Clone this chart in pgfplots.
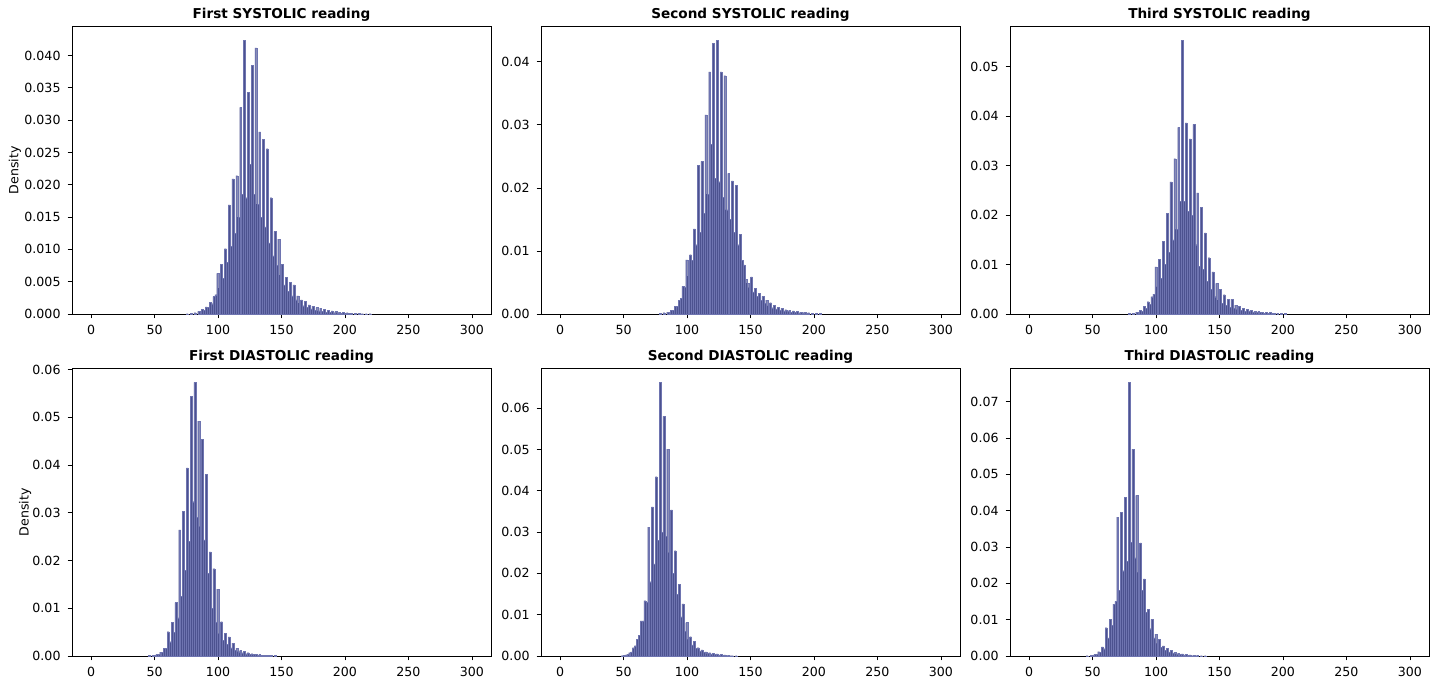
\documentclass[border=0pt]{standalone}
\usepackage{fontspec}
\setmainfont{DejaVu Sans}
\usepackage{pgfplots}
\usepackage{pgfplotstable}
\pgfplotsset{compat=1.18}
\definecolor{barfill}{RGB}{76,82,143}
\definecolor{baredge}{RGB}{110,116,176}

% bin centre, density (bins of width 1.5)
\pgfplotstableread{
x y
75.75 0.00005
78.75 0.0001
81.75 0.0002
84.75 0.0004
86.25 0.0003
87.75 0.0007
89.25 0.0006
90.75 0.0011
92.25 0.0010
93.75 0.0018
95.25 0.0016
96.75 0.0027
98.25 0.0030
99.75 0.0063
101.25 0.0040
102.75 0.0077
104.25 0.0055
105.75 0.0101
107.25 0.0080
108.75 0.0169
110.25 0.0105
111.75 0.0209
113.25 0.0125
114.75 0.0214
116.25 0.0150
117.75 0.0320
119.25 0.0185
120.75 0.0424
122.25 0.0180
123.75 0.0343
125.25 0.0232
126.75 0.0385
128.25 0.0185
129.75 0.0412
131.25 0.0170
132.75 0.0282
134.25 0.0150
135.75 0.0270
137.25 0.0135
138.75 0.0256
140.25 0.0110
141.75 0.0180
143.25 0.0090
144.75 0.0128
146.25 0.0075
147.75 0.0116
149.25 0.0060
150.75 0.0077
152.25 0.0045
153.75 0.0057
155.25 0.0035
156.75 0.0049
158.25 0.0028
159.75 0.0045
161.25 0.0022
162.75 0.0028
164.25 0.0017
165.75 0.0022
167.25 0.0013
168.75 0.0020
170.25 0.0010
171.75 0.0014
173.25 0.0008
174.75 0.0012
176.25 0.0006
177.75 0.0010
179.25 0.0005
180.75 0.0009
182.25 0.0004
183.75 0.0007
185.25 0.0003
186.75 0.0006
188.25 0.0003
189.75 0.0005
191.25 0.0002
192.75 0.0004
194.25 0.0002
195.75 0.0003
197.25 0.0001
198.75 0.0003
200.25 0.0001
201.75 0.0002
203.25 0.0001
204.75 0.0001
207.75 0.0001
210.75 0.0001
213.75 0.00005
216.75 0.00005
219.75 0.00005
}\sysA

\pgfplotstableread{
x y
78.75 0.0001
81.75 0.0002
84.75 0.0003
86.25 0.0003
87.75 0.0006
89.25 0.0006
90.75 0.0012
92.25 0.0012
93.75 0.0022
95.25 0.0025
96.75 0.0044
98.25 0.0042
99.75 0.0086
101.25 0.0060
102.75 0.0094
104.25 0.0085
105.75 0.0135
107.25 0.0110
108.75 0.0236
110.25 0.0130
111.75 0.0242
113.25 0.0160
114.75 0.0316
116.25 0.0190
117.75 0.0384
119.25 0.0269
120.75 0.0429
122.25 0.0215
123.75 0.0434
125.25 0.0210
126.75 0.0384
128.25 0.0185
129.75 0.0378
131.25 0.0165
132.75 0.0223
134.25 0.0150
135.75 0.0211
137.25 0.0130
138.75 0.0204
140.25 0.0110
141.75 0.0126
143.25 0.0085
144.75 0.0078
146.25 0.0055
147.75 0.0049
149.25 0.0042
150.75 0.0059
152.25 0.0035
153.75 0.0041
155.25 0.0028
156.75 0.0033
158.25 0.0022
159.75 0.0028
161.25 0.0017
162.75 0.0022
164.25 0.0013
165.75 0.0018
167.25 0.0010
168.75 0.0014
170.25 0.0008
171.75 0.0011
173.25 0.0006
174.75 0.0009
176.25 0.0005
177.75 0.0007
179.25 0.0004
180.75 0.0006
182.25 0.0003
183.75 0.0005
185.25 0.0003
186.75 0.0004
188.25 0.0002
189.75 0.0003
191.25 0.0002
192.75 0.0003
194.25 0.0001
195.75 0.0002
198.75 0.0001
201.75 0.0001
204.75 0.0001
}\sysB

\pgfplotstableread{
x y
78.75 0.0001
81.75 0.0002
84.75 0.0004
86.25 0.0003
87.75 0.0008
89.25 0.0006
90.75 0.0015
92.25 0.0011
93.75 0.0025
95.25 0.0020
96.75 0.0035
98.25 0.0040
99.75 0.0095
101.25 0.0055
102.75 0.0111
104.25 0.0072
105.75 0.0147
107.25 0.0100
108.75 0.0203
110.25 0.0125
111.75 0.0267
113.25 0.0150
114.75 0.0314
116.25 0.0171
117.75 0.0377
119.25 0.0228
120.75 0.0553
122.25 0.0228
123.75 0.0386
125.25 0.0208
126.75 0.0354
128.25 0.0200
129.75 0.0383
131.25 0.0140
132.75 0.0245
134.25 0.0096
135.75 0.0216
137.25 0.0090
138.75 0.0164
140.25 0.0066
141.75 0.0114
143.25 0.0050
144.75 0.0085
146.25 0.0035
147.75 0.0062
149.25 0.0028
150.75 0.0050
152.25 0.0022
153.75 0.0039
155.25 0.0018
156.75 0.0030
158.25 0.0014
159.75 0.0030
161.25 0.0011
162.75 0.0018
164.25 0.0009
165.75 0.0015
167.25 0.0007
168.75 0.0012
170.25 0.0006
171.75 0.0010
173.25 0.0005
174.75 0.0008
176.25 0.0004
177.75 0.0006
179.25 0.0003
180.75 0.0005
182.25 0.0003
183.75 0.0004
185.25 0.0002
186.75 0.0003
188.25 0.0002
189.75 0.0003
191.25 0.0001
192.75 0.0002
195.75 0.0002
198.75 0.0001
201.75 0.0001
}\sysC

\pgfplotstableread{
x y
45.75 0.0001
48.75 0.0002
50.25 0.0002
51.75 0.0004
53.25 0.0004
54.75 0.0008
56.25 0.0008
57.75 0.0016
59.25 0.0016
60.75 0.0051
62.25 0.0030
63.75 0.0070
65.25 0.0050
66.75 0.0112
68.25 0.0080
69.75 0.0264
71.25 0.0125
72.75 0.0303
74.25 0.0180
75.75 0.0394
77.25 0.0240
78.75 0.0544
80.25 0.0323
81.75 0.0573
83.25 0.0290
84.75 0.0492
86.25 0.0271
87.75 0.0454
89.25 0.0243
90.75 0.0381
92.25 0.0173
93.75 0.0218
95.25 0.0100
96.75 0.0183
98.25 0.0070
99.75 0.0140
101.25 0.0047
102.75 0.0072
104.25 0.0033
105.75 0.0047
107.25 0.0024
108.75 0.0040
110.25 0.0017
111.75 0.0027
113.25 0.0012
114.75 0.0016
116.25 0.0009
117.75 0.0012
119.25 0.0007
120.75 0.0010
122.25 0.0005
123.75 0.0007
125.25 0.0004
126.75 0.0005
128.25 0.0003
129.75 0.0004
131.25 0.0002
132.75 0.0003
134.25 0.0002
135.75 0.0002
137.25 0.0001
138.75 0.0002
140.25 0.0001
141.75 0.0001
144.75 0.0001
}\diaA

\pgfplotstableread{
x y
48.75 0.0001
50.25 0.0002
51.75 0.0003
53.25 0.0004
54.75 0.0008
56.25 0.0010
57.75 0.0020
59.25 0.0025
60.75 0.0041
62.25 0.0050
63.75 0.0085
65.25 0.0085
66.75 0.0134
68.25 0.0130
69.75 0.0312
71.25 0.0180
72.75 0.0361
74.25 0.0223
75.75 0.0434
77.25 0.0280
78.75 0.0663
80.25 0.0300
81.75 0.0580
83.25 0.0290
84.75 0.0501
86.25 0.0250
87.75 0.0354
89.25 0.0200
90.75 0.0255
92.25 0.0150
93.75 0.0174
95.25 0.0095
96.75 0.0126
98.25 0.0060
99.75 0.0081
101.25 0.0040
102.75 0.0047
104.25 0.0027
105.75 0.0035
107.25 0.0018
108.75 0.0020
110.25 0.0012
111.75 0.0015
113.25 0.0009
114.75 0.0010
116.25 0.0006
117.75 0.0008
119.25 0.0005
120.75 0.0006
122.25 0.0004
123.75 0.0005
125.25 0.0003
126.75 0.0004
128.25 0.0002
129.75 0.0003
131.25 0.0001
132.75 0.0002
134.25 0.0001
135.75 0.0001
138.75 0.0001
}\diaB

\pgfplotstableread{
x y
45.75 0.0001
48.75 0.0002
50.25 0.0002
51.75 0.0005
53.25 0.0005
54.75 0.0012
56.25 0.0010
57.75 0.0025
59.25 0.0020
60.75 0.0078
62.25 0.0050
63.75 0.0101
65.25 0.0085
66.75 0.0143
68.25 0.0150
69.75 0.0382
71.25 0.0180
72.75 0.0396
74.25 0.0235
75.75 0.0437
77.25 0.0260
78.75 0.0753
80.25 0.0313
81.75 0.0569
83.25 0.0270
84.75 0.0442
86.25 0.0230
87.75 0.0311
89.25 0.0180
90.75 0.0212
92.25 0.0120
93.75 0.0129
95.25 0.0075
96.75 0.0101
98.25 0.0050
99.75 0.0060
101.25 0.0035
102.75 0.0046
104.25 0.0024
105.75 0.0028
107.25 0.0016
108.75 0.0022
110.25 0.0011
111.75 0.0015
113.25 0.0008
114.75 0.0011
116.25 0.0006
117.75 0.0008
119.25 0.0004
120.75 0.0006
122.25 0.0003
123.75 0.0004
125.25 0.0002
126.75 0.0003
128.25 0.0001
129.75 0.0002
131.25 0.0001
132.75 0.0002
135.75 0.0001
138.75 0.0001
}\diaC

\pgfplotsset{
  histax/.style={
    scale only axis, width=209.5pt, height=143.75pt,
    anchor=south west,
    xmin=-15, xmax=315, ymin=0,
    xtick={0,50,...,300},
    tick pos=left, tick align=outside,
    major tick length=2.2pt,
    tick style={black, line width=0.4pt},
    axis line style={black, line width=0.45pt},
    ticklabel style={font=\fontsize{6.3}{7.5}\selectfont},
    /pgf/number format/assume math mode=true,
    scaled y ticks=false,
    yticklabel style={/pgf/number format/.cd, fixed, fixed zerofill, precision=2},
    title style={font=\bfseries\fontsize{6.8}{8}\selectfont, yshift=-7pt},
    ylabel style={font=\fontsize{6.3}{7.5}\selectfont, anchor=center},
  },
  hist/.style={ybar, bar width=1.5, bar shift=0pt, fill=barfill, draw=baredge, line width=0.08pt},
}

\begin{document}
\begin{tikzpicture}
\path[use as bounding box] (0,0) rectangle (715pt,340.5pt);

\begin{axis}[histax, at={(36pt,183.5pt)}, ymax=0.0445,
  ytick={0,0.005,...,0.0401},
  yticklabel style={/pgf/number format/.cd, fixed, fixed zerofill, precision=3},
  title={First SYSTOLIC reading}, ylabel={Density},
  ylabel style={at={(axis description cs:-0.136,0.5)}}]
\addplot[hist] table {\sysA};
\end{axis}

\begin{axis}[histax, at={(270.5pt,183.5pt)}, ymax=0.0456,
  ytick={0,0.01,...,0.0401},
  title={Second SYSTOLIC reading}]
\addplot[hist] table {\sysB};
\end{axis}

\begin{axis}[histax, at={(505pt,183.5pt)}, ymax=0.0581,
  ytick={0,0.01,...,0.0501},
  title={Third SYSTOLIC reading}]
\addplot[hist] table {\sysC};
\end{axis}

\begin{axis}[histax, at={(36pt,12.5pt)}, ymax=0.0602,
  ytick={0,0.01,...,0.0601},
  title={First DIASTOLIC reading}, ylabel={Density},
  ylabel style={at={(axis description cs:-0.112,0.5)}}]
\addplot[hist] table {\diaA};
\end{axis}

\begin{axis}[histax, at={(270.5pt,12.5pt)}, ymax=0.0696,
  ytick={0,0.01,...,0.0601},
  title={Second DIASTOLIC reading}]
\addplot[hist] table {\diaB};
\end{axis}

\begin{axis}[histax, at={(505pt,12.5pt)}, ymax=0.0791,
  ytick={0,0.01,...,0.0701},
  title={Third DIASTOLIC reading}]
\addplot[hist] table {\diaC};
\end{axis}
\end{tikzpicture}
\end{document}
